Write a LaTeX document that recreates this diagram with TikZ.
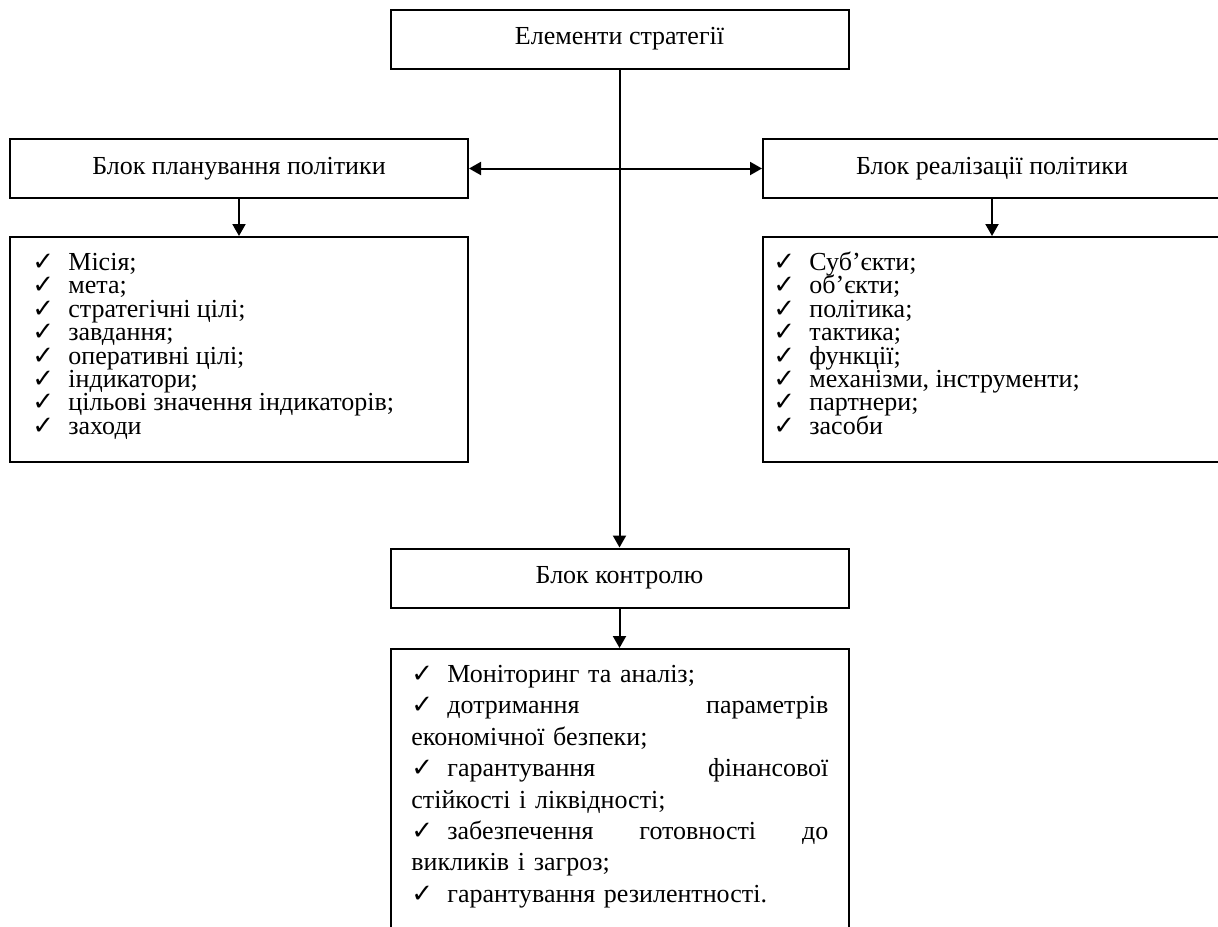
\documentclass[tikz,border=0pt]{standalone}
\usepackage{fontspec}
\setmainfont{Liberation Serif}
\newfontfamily\checkfont{DejaVu Sans}
\usetikzlibrary{arrows.meta}

\newcommand{\chk}{\rule{0pt}{10pt}\makebox[18pt][l]{\checkfont\fontsize{13}{13}\selectfont ✓}}
\newcommand{\tightfont}{\fontsize{13}{11.7}\selectfont\lineskiplimit=-100pt\relax}

\tikzset{
  block/.style={draw, line width=1pt, minimum width=229pt, minimum height=29.5pt, inner sep=0pt},
  listbox/.style={draw, line width=1pt, minimum width=229pt, minimum height=112.5pt, inner sep=0pt},
  items/.style={anchor=north west, align=left, inner sep=0pt},
  arr/.style={line width=1pt, -{Triangle[length=6pt,width=6.5pt]}},
  arrs/.style={line width=1pt, {Triangle[length=6pt,width=6.5pt]}-{Triangle[length=6pt,width=6.5pt]}}
}

\begin{document}
\begin{tikzpicture}[x=0.5pt, y=-0.5pt, font=\tightfont]
    \useasboundingbox (0,0) rectangle (1218,926);
    \clip (0,0) rectangle (1218,926);

    \node[block] (strat) at (619.5,39) {Елементи стратегії};

    \node[block] (plan) at (239,168.5) {Блок планування політики};
    \node[block] (real) at (992,168.5) {Блок реалізації політики};

    \node[listbox] (planbox) at (239,349.5) {};
    \node[listbox] (realbox) at (992,349.5) {};

    \node[items] (planlist) at (32,250) {\chk Місія;\\ \chk мета;\\ \chk стратегічні цілі;\\ \chk завдання;\\
        \chk оперативні цілі;\\ \chk індикатори;\\ \chk цільові значення індикаторів;\\ \chk заходи};
    \node[items] (reallist) at (773,250) {\chk Суб’єкти;\\ \chk об’єкти;\\ \chk політика;\\ \chk тактика;\\
        \chk функції;\\ \chk механізми, інструменти;\\ \chk партнери;\\ \chk засоби};

    \node[block] (ctrl) at (619.5,578) {Блок контролю};
    \node[draw, line width=1pt, minimum width=229pt, minimum height=150pt, anchor=north] (ctrlbox) at (619.5,648) {};

    \node[items, text width=208.5pt, font=\fontsize{13}{15.7}\selectfont] (ctrllist) at (411,662) {%
        \chk Моніторинг та аналіз;\\
        \chk дотримання\hfill параметрів\\
        економічної безпеки;\\
        \chk гарантування\hfill фінансової\\
        стійкості і ліквідності;\\
        \chk забезпечення\hfill готовності\hfill до\\
        викликів і загроз;\\
        \chk гарантування резилентності.};

    % connectors
    \draw[arr] (strat.south) -- (ctrl.north);
    \draw[arrs] (plan.east) -- (real.west);
    \draw[arr] (plan.south) -- (planbox.north);
    \draw[arr] (real.south) -- (realbox.north);
    \draw[arr] (ctrl.south) -- (ctrlbox.north);
\end{tikzpicture}
\end{document}
